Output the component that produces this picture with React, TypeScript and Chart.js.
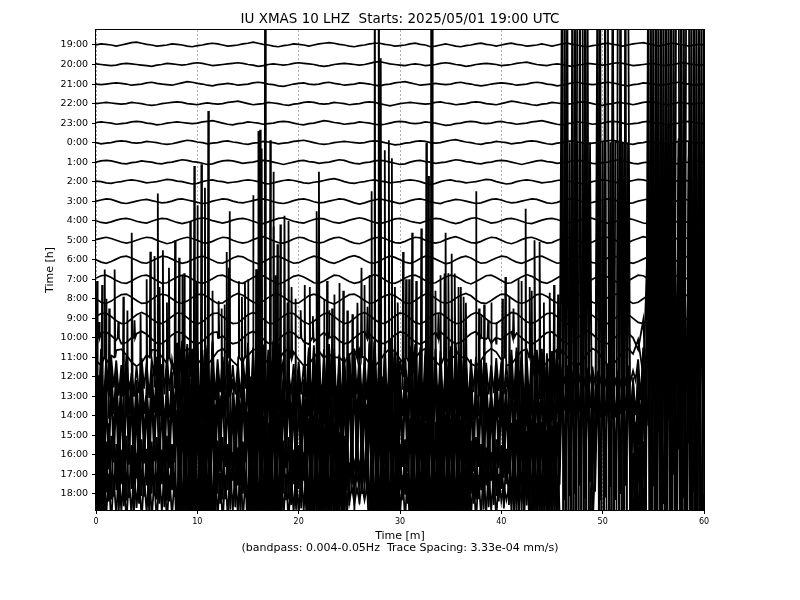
import React, { useEffect, useRef } from 'react';
import { Chart, registerables } from 'chart.js';

Chart.register(...registerables);

// ---------- labels ----------
const hourLabels = ['19:00','20:00','21:00','22:00','23:00','0:00','1:00','2:00','3:00','4:00','5:00','6:00',
  '7:00','8:00','9:00','10:00','11:00','12:00','13:00','14:00','15:00','16:00','17:00','18:00'];
const minuteTicks = [0, 10, 20, 30, 40, 50, 60];
const titleText = 'IU XMAS 10 LHZ  Starts: 2025/05/01 19:00 UTC';
const xLabel = 'Time [m]';
const xSubLabel = '(bandpass: 0.004-0.05Hz  Trace Spacing: 3.33e-04 mm/s)';
const yLabel = 'Time [h]';

// amplitude units: 1e-5 mm/s ; one trace spacing = 3.33e-04 mm/s
const TRACE_SPACING = 33.3;

// ---------- quiet traces, one sample every 0.5 min (0..60) ----------
const t1900 = [0,2,1,0,-2,0,2,4,5,3,
 1,0,-2,-1,0,2,1,0,-2,-3,
 -1,0,2,3,2,0,-2,-1,0,2,
 3,5,3,1,0,-2,-3,-1,0,2,
 1,0,-2,0,2,3,4,3,1,0,
 -2,-3,-1,0,2,3,3,1,0,-2,
 -1,0,2,3,1,0,-3,-2,0,2,
 0,-2,-3,-1,0,2,3,1,0,-2,
 0,2,3,1,0,-2,-1,0,2,0,
 -2,0,2,3,1,0,-2,-3,-1,0,
 2,3,1,0,-2,0,2,3,4,2,
 0,-2,0,2,3,1,0,-2,0,1,0];
const t2000 = [1,0,-1,-2,-1,1,2,1,0,-1,
 -2,-3,-1,0,2,1,0,-1,0,2,
 3,2,0,-2,-1,0,1,2,3,2,
 0,-1,-3,-2,0,1,0,-1,0,2,
 3,2,1,0,-2,-3,-2,0,1,2,
 1,0,-1,0,2,4,5,3,1,0,
 -1,-2,0,1,0,-2,-1,0,2,3,
 2,0,-1,-3,-2,0,1,2,1,0,
 -2,-1,0,2,3,4,2,0,-1,-2,
 0,1,0,-2,-3,-1,0,2,1,0,
 -1,0,2,3,2,0,-2,-1,0,1,
 2,0,-2,-1,0,2,3,1,0,-1,0];
const t2100 = [0,-1,0,1,2,1,0,-2,-1,0,
 2,3,1,0,-1,-2,0,2,4,3,
 1,0,-2,-3,-1,0,1,0,-2,-1,
 0,2,3,2,0,-1,-3,-4,-2,0,
 1,2,0,-1,0,2,3,1,0,-2,
 -1,0,2,1,0,-2,-3,-1,0,2,
 3,4,2,0,-2,-1,0,1,0,-1,
 0,2,3,1,0,-2,-3,-2,0,1,
 2,1,0,-2,-1,0,2,3,2,0,
 -1,-3,-2,0,2,3,1,0,-1,0,
 2,3,2,0,-2,-3,-1,0,2,1,
 0,-2,-1,0,2,3,1,0,-2,-1,0];
const t2200 = [0,1,2,1,0,-1,0,2,1,0,
 -2,-3,-2,0,1,2,3,2,0,-1,
 -2,0,1,0,-1,0,2,3,4,2,
 0,-2,-1,0,2,1,0,-2,-3,-1,
 0,2,3,2,0,-1,0,2,1,0,
 -2,-1,0,2,3,2,0,-2,-4,-2,
 0,1,2,1,0,-1,0,2,3,1,
 0,-2,-1,0,2,3,2,0,-1,-2,
 0,2,4,3,1,0,-2,-3,-1,0,
 2,1,0,-1,0,2,3,2,0,-2,
 -3,-1,0,2,1,0,-2,0,2,3,
 2,0,-1,-2,0,2,1,0,-1,0,1];
const t2300 = [1,2,1,0,-2,-1,0,2,3,2,
 0,-1,-3,-2,0,1,2,1,0,-1,
 0,2,3,4,2,0,-2,-3,-1,0,
 2,1,0,-2,-1,0,2,3,2,0,
 -2,-3,-1,0,2,4,3,1,0,-2,
 -1,0,2,1,0,-2,-3,-2,0,2,
 3,2,0,-1,0,2,1,0,-2,-4,
 -3,-1,0,2,3,2,0,-1,0,2,
 3,1,0,-2,-1,0,2,3,4,2,
 0,-2,-3,-1,0,2,1,0,-2,-1,
 0,2,3,2,0,-2,-1,0,2,3,
 1,0,-2,-3,-1,0,2,3,1,0,-1];
const t0000 = [0,-2,-1,0,2,3,2,0,-1,0,
 2,1,0,-2,-3,-2,0,2,4,3,
 1,0,-2,-1,0,2,3,1,0,-2,
 -3,-1,0,2,1,0,-2,-1,0,2,
 3,4,2,0,-2,-3,-2,0,1,2,
 1,0,-1,0,2,3,2,0,-2,-4,
 -3,-1,0,2,3,2,0,-1,0,2,
 4,5,3,1,0,-2,-3,-1,0,2,
 1,0,-2,-1,0,2,3,2,0,-2,
 -3,-1,0,2,3,1,0,-2,-1,0,
 2,3,4,2,0,-2,-3,-1,0,2,
 1,0,-2,-1,0,2,3,2,0,-1,0];
const t0100 = [0,2,3,2,0,-2,-3,-1,0,2,
 1,0,-2,-3,-1,0,2,4,3,1,
 0,-2,-4,-3,0,2,3,2,0,-2,
 -1,0,2,3,2,0,-2,-4,-2,0,
 2,3,1,0,-2,-1,0,2,4,3,
 0,-2,-3,-1,0,2,3,2,0,-2,
 -4,-3,0,2,3,1,0,-2,-1,0,
 2,4,3,1,0,-2,-3,-1,0,2,
 3,2,0,-2,-4,-2,0,2,3,1,
 0,-2,-1,0,2,3,2,0,-2,-3,
 -1,0,2,4,3,0,-2,-3,-1,0,
 2,3,1,0,-2,-3,-1,0,2,1,0];
const t0200 = [1,0,-2,-3,-1,0,2,3,2,0,
 -2,-1,0,2,4,3,1,0,-2,-4,
 -3,0,2,3,1,0,-2,-1,0,2,
 3,2,0,-2,-4,-2,0,2,3,2,
 0,-2,-3,-1,0,2,4,5,3,0,
 -2,-3,-1,0,2,3,1,0,-2,-1,
 0,2,3,2,0,-3,-5,-3,0,2,
 3,1,0,-2,-1,0,2,4,3,0,
 -2,-4,-3,0,2,3,2,0,-2,-1,
 0,2,3,1,0,-2,-4,-2,0,2,
 3,2,0,-2,-1,0,2,4,3,1,
 0,-2,-3,-1,0,2,3,1,0,-1,0];
const t0300 = [0,2,4,3,0,-3,-4,-2,0,2,
 3,1,-1,-3,-2,0,3,4,2,0,
 -2,-4,-3,0,2,4,3,0,-2,-3,
 -1,1,3,4,2,-1,-3,-4,-2,1,
 3,4,2,-1,-3,-2,0,2,4,3,
 0,-3,-5,-3,0,2,4,2,0,-2,
 -4,-2,1,3,4,2,-1,-3,-4,-1,
 1,3,2,0,-2,-4,-3,0,3,4,
 2,-1,-3,-2,0,2,4,3,0,-3,
 -4,-2,1,3,4,2,-1,-3,-2,0,
 2,4,3,0,-2,-4,-3,0,2,4,
 3,0,-3,-4,-1,1,3,2,0,-2,0];
const t0400 = [0,-3,-4,-2,1,3,4,2,-1,-3,
 -4,-1,2,4,3,0,-3,-5,-3,0,
 3,5,3,0,-2,-4,-2,1,3,4,
 2,-1,-4,-5,-2,1,4,5,2,-1,
 -3,-4,-1,2,4,3,0,-3,-4,-2,
 1,3,5,3,0,-3,-5,-3,0,3,
 4,2,-1,-3,-4,-1,2,4,3,0,
 -3,-5,-3,1,4,5,2,-1,-4,-3,
 0,3,4,2,-1,-4,-5,-2,1,3,
 4,2,-1,-3,-4,-1,2,5,4,1,
 -2,-4,-3,0,3,4,2,-1,-4,-5,
 -2,1,4,3,0,-3,-4,-1,2,3,0];
const t0500 = [1,3,5,3,0,-3,-5,-3,0,3,
 5,4,0,-3,-6,-4,0,3,5,3,
 0,-4,-5,-2,2,5,4,0,-3,-5,
 -3,1,4,6,3,-1,-4,-5,-2,2,
 5,4,0,-3,-5,-3,1,4,5,2,
 -2,-5,-6,-3,1,4,5,3,-1,-4,
 -5,-2,2,5,4,0,-3,-5,-3,1,
 4,6,3,-1,-4,-5,-2,2,5,4,
 0,-4,-6,-3,1,4,5,2,-2,-5,
 -4,0,3,5,3,-1,-4,-6,-3,1,
 4,5,2,-2,-5,-4,0,3,6,4,
 0,-3,-5,-3,1,4,5,2,-2,-4,0];
const t0600 = [0,-4,-6,-3,1,5,6,3,-1,-5,
 -6,-2,2,6,5,1,-3,-6,-4,0,
 4,6,3,-1,-5,-6,-2,3,6,5,
 0,-4,-7,-4,1,5,6,2,-2,-6,
 -5,-1,3,6,4,0,-4,-6,-3,1,
 5,7,4,-1,-5,-6,-2,3,6,4,
 0,-4,-6,-3,2,6,5,1,-3,-7,
 -5,0,4,6,3,-2,-6,-5,-1,3,
 6,5,0,-4,-6,-3,1,5,6,2,
 -2,-6,-5,0,4,7,4,-1,-5,-6,
 -2,3,6,5,0,-4,-6,-3,1,5,
 6,2,-2,-6,-4,0,4,6,3,-1,0];
const t0700 = [2,6,7,3,-2,-6,-7,-3,2,6,
 7,3,-2,-7,-6,-1,4,7,5,0,
 -5,-7,-4,1,6,7,3,-2,-6,-7,
 -2,3,7,6,1,-4,-8,-5,0,5,
 7,4,-1,-6,-7,-3,2,7,6,1,
 -4,-7,-5,0,5,8,5,-1,-6,-7,
 -3,2,6,7,3,-2,-7,-6,-1,4,
 7,5,0,-5,-8,-4,1,6,7,3,
 -2,-7,-6,-1,4,8,5,0,-5,-7,
 -3,2,7,6,1,-4,-7,-5,0,5,
 7,4,-1,-6,-8,-3,2,7,6,1,
 -4,-7,-5,0,5,7,4,-1,-5,-3,0];
const t0800 = [0,-6,-8,-4,2,7,8,3,-3,-8,
 -7,-1,5,8,6,0,-6,-8,-4,2,
 7,8,3,-3,-8,-7,-1,5,9,6,
 0,-6,-8,-4,2,7,8,3,-3,-8,
 -7,-1,5,8,5,-1,-6,-9,-4,2,
 7,8,3,-3,-8,-6,0,5,8,5,
 -1,-7,-8,-3,3,8,7,1,-5,-8,
 -5,1,6,9,5,-2,-7,-8,-3,3,
 8,7,1,-5,-8,-5,1,7,8,4,
 -2,-7,-8,-3,3,8,6,0,-6,-9,
 -4,2,7,8,3,-3,-8,-6,0,6,
 8,5,-1,-7,-8,-3,3,8,6,0,0];
const t0900 = [3,8,9,3,-4,-9,-8,-1,6,10,
 6,-1,-7,-9,-4,3,9,8,1,-6,
 -10,-6,1,8,9,3,-4,-9,-8,-1,
 6,10,6,-1,-8,-9,-3,4,9,8,
 1,-6,-10,-5,2,8,9,3,-4,-9,
 -7,0,7,10,5,-2,-8,-9,-3,4,
 9,7,0,-7,-10,-5,2,8,9,3,
 -4,-9,-8,-1,6,10,6,-1,-8,-9,
 -3,4,10,8,1,-6,-9,-5,2,8,
 9,3,-4,-10,-7,0,7,9,5,-2,
 -8,-9,-3,4,9,7,0,-7,-9,-4,
 3,9,8,1,-6,-9,-5,2,8,6,0];
const t1000 = [2,8,10,4,-4,-10,-8,0,7,11,
 6,-2,-9,-10,-3,5,10,8,0,-7,
 -11,-6,2,9,10,3,-5,-10,-8,0,
 7,11,6,-2,-9,-10,-3,5,10,8,
 0,-7,-11,-6,2,9,10,3,-5,-10,
 -8,0,7,11,6,-2,-9,-10,-3,5,
 10,8,0,-7,-11,-6,2,9,10,3,
 -5,-10,-8,0,7,11,6,-2,-9,-10,
 -3,5,10,8,0,-7,-11,-6,2,9,
 10,3,-5,-10,-8,0,7,11,6,-2,
 -9,-10,-3,5,10,8,0,-20,30,-150,
 180,-160,200,-140,170,-190,150,-180,200,-130,90];
const t1100 = [-5,-14,-10,3,12,14,4,-8,-15,-9,
 4,13,12,1,-10,-15,-6,7,15,10,
 -3,-13,-13,-2,10,15,6,-7,-15,-10,
 3,13,13,1,-11,-15,-5,8,15,9,
 -4,-14,-12,0,11,14,5,-8,-15,-9,
 4,13,12,1,-10,-15,-6,7,15,10,
 -3,-13,-13,-2,10,15,6,-7,-15,-10,
 3,13,13,1,-11,-15,-5,8,15,9,
 -4,-14,-12,0,11,14,5,-8,-15,-9,
 4,13,12,1,-10,-15,-6,7,15,10,
 -3,-13,-13,-2,10,15,6,30,-30,220,
 -220,180,-250,230,-200,260,-240,190,-230,210,-150];

// ---------- noisy traces, one sample every 0.25 min (0..60) ----------
const t1200 = [55,-60,48,-52,30,-25,34,-18,28,-32,20,-30,36,-22,26,-34,18,-28,32,-20,
 24,-36,30,-18,34,-26,22,-30,36,-24,28,-20,58,-50,62,-44,56,-60,48,-55,
 60,-52,46,-58,54,-48,62,-40,30,-26,34,-22,28,-32,20,-30,24,-36,30,-20,
 58,-62,50,-56,64,-48,55,-60,46,-58,62,-50,56,-52,30,-24,34,-28,22,-32,
 26,-30,20,-34,50,-46,54,-40,52,-56,44,-50,56,-42,48,-54,38,-42,34,-40,
 40,-36,44,-30,38,-42,32,-40,60,-55,62,-48,58,-62,50,-56,64,-52,56,-60,
 28,-22,32,-26,52,-48,56,-44,50,-54,46,-52,55,-40,48,-56,44,-50,54,-46,
 52,-48,56,-42,50,-54,46,-52,30,-26,34,-22,28,-32,24,-30,20,-28,32,-24,
 26,-30,22,-28,46,-40,50,-36,44,-48,38,-46,50,-42,46,-38,48,-44,40,-50,
 44,-40,48,-36,12,-8,10,-12,6,-10,14,-6,8,-12,10,-8,12,-10,6,-8,
 10,-12,8,-6,12,-10,8,-12,6,-10,12,-8,10,-6,30,-40,50,-60,300,-280,
 320,-300,280,-340,300,-260,330,-310,290,-320,340,-280,300,-330,310,-290,320,-300,280,-310,
 -200];
const t1300 = [85,-90,72,-80,45,-38,52,-30,42,-50,35,-44,54,-32,40,-52,28,-42,48,-30,
 36,-54,46,-28,52,-40,34,-46,54,-36,42,-30,88,-76,92,-66,84,-90,72,-82,
 90,-78,70,-88,82,-72,94,-60,46,-40,52,-34,42,-48,30,-46,36,-54,46,-30,
 88,-94,76,-84,96,-72,82,-90,70,-88,94,-76,84,-78,46,-36,52,-42,34,-48,
 40,-46,30,-52,76,-70,82,-60,78,-84,66,-76,84,-64,72,-82,58,-64,52,-60,
 60,-54,66,-46,58,-64,48,-60,90,-84,94,-72,88,-94,76,-84,96,-78,84,-90,
 42,-34,48,-40,78,-72,84,-66,76,-82,70,-78,82,-60,72,-84,66,-76,82,-70,
 78,-72,84,-64,76,-82,70,-78,46,-40,52,-34,42,-48,36,-46,30,-42,48,-36,
 40,-46,34,-42,70,-60,76,-54,66,-72,58,-70,76,-64,70,-58,72,-66,60,-76,
 66,-60,72,-54,30,-24,36,-28,22,-34,40,-26,32,-38,28,-20,34,-30,26,-36,
 30,-34,38,-26,32,-36,28,-30,34,-24,36,-30,26,-32,40,-50,60,-70,400,-380,
 420,-400,380,-440,400,-360,430,-410,390,-420,440,-380,400,-430,410,-390,420,-400,380,-410,
 -300];
const t1400 = [112,-120,96,-106,60,-50,70,-40,56,-66,46,-58,72,-42,54,-70,38,-56,64,-40,
 48,-72,62,-38,70,-54,46,-62,72,-48,56,-40,116,-100,122,-88,112,-120,96,-108,
 120,-104,94,-116,108,-96,124,-80,62,-54,70,-46,56,-64,40,-62,48,-72,62,-40,
 116,-124,100,-112,126,-96,108,-120,94,-116,124,-100,112,-104,62,-48,70,-56,46,-64,
 54,-62,40,-70,102,-94,110,-80,104,-112,88,-100,112,-86,96,-110,78,-86,70,-80,
 80,-72,88,-62,78,-86,64,-80,120,-112,126,-96,118,-124,100,-112,128,-104,112,-120,
 56,-46,64,-54,104,-96,112,-88,100,-110,94,-104,110,-80,96,-112,88,-100,110,-94,
 104,-96,112,-86,100,-110,94,-104,62,-54,70,-46,56,-64,48,-62,40,-56,64,-48,
 54,-62,46,-56,94,-80,100,-72,88,-96,78,-94,102,-86,94,-78,96,-88,80,-100,
 88,-80,96,-72,80,-70,86,-76,72,-84,90,-66,78,-88,70,-60,84,-74,66,-86,
 78,-84,88,-66,80,-86,70,-78,84,-64,86,-76,66,-80,90,-100,110,-120,400,-380,
 420,-440,400,-410,450,-420,400,-440,410,-380,440,-410,420,-400,440,-450,410,-420,440,-410,
 -300];
const t1500 = [130,-140,112,-124,70,-58,82,-46,66,-78,54,-68,84,-50,64,-82,44,-66,76,-48,
 56,-84,72,-44,82,-64,54,-72,84,-56,66,-46,136,-116,142,-102,130,-140,112,-126,
 140,-120,110,-136,126,-112,144,-94,72,-62,82,-54,66,-76,48,-72,56,-84,72,-46,
 136,-144,116,-130,146,-112,126,-140,110,-136,144,-116,130,-122,72,-56,82,-66,54,-76,
 62,-72,48,-82,120,-110,128,-94,122,-130,102,-116,130,-100,112,-128,90,-100,82,-94,
 94,-84,102,-72,92,-100,74,-94,140,-130,146,-112,138,-144,116,-130,148,-122,130,-140,
 66,-54,74,-62,120,-112,130,-102,116,-128,110,-120,128,-94,112,-130,102,-116,128,-110,
 120,-112,130,-100,116,-128,110,-120,72,-62,82,-54,66,-76,56,-72,48,-66,76,-56,
 62,-72,54,-66,110,-94,116,-84,102,-112,92,-110,118,-100,110,-90,112,-102,94,-116,
 102,-94,112,-84,100,-110,96,-104,90,-100,112,-86,100,-108,92,-80,106,-96,88,-110,
 100,-106,110,-88,104,-110,92,-100,108,-86,110,-98,90,-104,96,-90,100,-94,480,-500,
 520,-480,500,-520,490,-500,530,-510,490,-520,500,-480,520,-510,500,-490,530,-520,500,-510,
 -400];
const t1600 = [-124,136,-100,116,-64,54,-76,42,-60,72,-50,62,-78,46,-58,76,-40,60,-70,44,
 -52,78,-66,40,-76,58,-50,66,-78,52,-60,42,-126,108,-132,94,-120,130,-104,116,
 -130,112,-102,126,-116,104,-134,86,-66,58,-76,50,-60,70,-44,66,-52,78,-66,42,
 -126,134,-108,120,-136,104,-116,130,-102,126,-134,108,-120,112,-66,52,-76,60,-50,70,
 -58,66,-44,76,-112,102,-118,86,-112,120,-94,108,-120,92,-104,118,-84,94,-76,86,
 -86,78,-94,66,-84,92,-68,86,-130,120,-136,104,-128,134,-108,120,-138,112,-120,130,
 -60,50,-68,58,-112,104,-120,94,-108,118,-102,112,-118,86,-104,120,-94,108,-118,102,
 -112,104,-120,92,-108,118,-102,112,-66,58,-76,50,-60,70,-52,66,-44,60,-70,52,
 -58,66,-50,60,-102,88,-108,78,-96,104,-86,102,-110,94,-102,84,-104,96,-88,108,
 -96,88,-104,80,900,-900,900,-900,-900,900,-900,900,900,-900,900,-900,80,-60,900,-900,
 -900,900,900,-900,900,-900,-900,900,-900,900,900,-120,110,-130,100,-120,130,-110,900,-900,
 900,-900,900,-900,900,-900,900,-900,900,-900,-900,900,-900,900,900,-900,900,-900,900,-900,
 900];
const t1700 = [106,-116,90,-100,56,-46,66,-38,52,-62,42,-54,66,-40,50,-64,36,-50,60,-38,
 44,-66,56,-36,64,-50,42,-56,66,-46,52,-38,110,-94,114,-82,104,-112,90,-100,
 112,-96,88,-108,100,-90,116,-76,58,-50,64,-42,52,-60,38,-56,46,-66,56,-38,
 108,-114,94,-104,118,-90,100,-112,88,-108,116,-94,104,-96,58,-44,64,-52,42,-60,
 50,-58,38,-64,96,-88,102,-76,96,-104,82,-94,104,-80,90,-102,72,-80,66,-76,
 20,-14,18,-12,16,-20,14,-18,112,-104,118,-90,110,-116,94,-104,120,-98,104,-112,
 52,-44,60,-50,96,-90,104,-82,94,-102,88,-98,102,-76,90,-104,82,-94,102,-88,
 96,-90,104,-80,94,-102,88,-96,58,-50,64,-42,52,-60,46,-56,38,-52,60,-46,
 50,-58,44,-52,88,-76,94,-68,84,-90,74,-88,96,-82,88,-72,90,-84,76,-94,
 84,-76,90,-70,-900,900,-900,-900,900,-900,900,900,-900,900,-900,-80,70,-900,-900,900,
 -900,900,-900,-900,900,-900,900,900,-900,900,-900,100,-120,90,-110,100,-100,120,-900,900,
 -900,900,-900,900,-900,900,-900,900,-900,900,900,-900,900,-900,-900,900,-900,900,-900,900,
 -900];
const t1800 = [-80,88,-64,72,-40,34,-48,28,-38,46,-30,40,-50,28,-36,48,-24,38,-44,28,
 -32,50,-42,24,-48,36,-30,42,-50,32,-38,26,-82,70,-86,62,-78,84,-66,74,
 -84,72,-66,80,-76,68,-88,56,-42,36,-48,32,-38,44,-28,42,-34,50,-42,26,
 -80,86,-70,78,-88,66,-76,84,-66,80,-86,70,-78,72,-42,34,-48,38,-32,44,
 -36,42,-28,48,-72,66,-76,56,-72,78,-60,70,-78,60,-66,76,-54,60,-48,56,
 -14,12,-16,10,-12,16,-10,14,-84,78,-88,68,-82,86,-70,78,-90,72,-78,84,
 -38,32,-44,36,-72,66,-78,60,-70,76,-66,72,-76,56,-66,78,-60,70,-76,66,
 -72,66,-78,58,-70,76,-66,72,-42,36,-48,32,-38,44,-34,42,-28,38,-44,34,
 -12,14,-10,12,-16,12,-14,10,-12,16,-10,14,-72,60,-66,54,-68,62,-56,70,
 -62,56,-68,52,600,-600,-600,600,-600,600,600,-600,600,-600,-600,600,-60,50,600,-600,
 600,-600,-600,600,-600,600,600,-600,600,-600,600,-80,70,-90,80,-70,90,-80,600,-600,
 600,-600,600,-600,600,-600,600,-600,600,-600,600,-600,600,-600,600,-600,600,-600,600,-600,
 600];

// ---------- isolated spikes: [minute, amplitude] ----------
const spikes1000 = [[0.3,27],[2.2,27],[3.8,30],[12.1,63],[20.2,47],[21.4,37],[23.0,47],[26.8,53],[33.8,43],[38.0,37],[38.7,30],[39.5,27],[41.2,50]];
const spikes1100 = [[0.86,150],[1.84,150],[5.36,180],[7.2,153],[13.1,153],[14.1,130],[14.7,127],[19.3,120],[22.5,100],[23.5,107],[24.0,127],[25.8,93],[26.2,153],[30.6,133],[34.4,143],[35.4,143],[36.0,120],[36.5,93],[40.4,137],[42.8,120],[45.6,107]];
const spikes1200 = [[3.55,246],[5.8,206],[6.6,216],[7.8,233],[8.2,203],[9.3,266],[12.9,213],[17.5,256],[17.9,226],[18.2,260],[18.6,275],[19.0,266],[30.3,213],[31.2,246],[32.1,253],[34.5,246],[35.1,210],[43.3,233],[43.8,230]];
const spikes1300 = [[6.1,346],[9.7,393],[10.0,326],[10.4,396],[10.75,356],[13.2,316],[15.5,343],[16.35,423],[17.5,383],[21.8,316],[22.0,383],[27.2,350],[28.5,420],[29.2,406],[32.8,376],[37.5,350],[42.4,320],
 [0.6,190],[1.3,150],[2.7,170],[4.4,140],[5.0,200],[7.0,160],[8.7,210],[11.5,180],[12.4,150],[14.4,170],[15.0,200],[18.9,160],[20.6,190],[23.3,150],[24.4,180],[25.3,140],[26.5,190],[29.8,160],[30.9,200],[33.5,180],[34.8,210],[36.3,170],[37.8,150],[39.0,160],[40.8,170],[41.7,200],[43.0,180],[44.2,160],[45.2,190],[45.8,150]];
const spikes1400 = [[11.08,520],[16.0,486],[16.2,488],[17.2,470],[28.1,610],[28.9,470],[32.6,466],
 [0.1,230],[1.0,200],[3.1,180],[6.3,220],[8.5,240],[9.9,230],[12.7,190],[15.8,250],[17.7,240],[19.7,200],[21.1,220],[22.8,230],[24.8,180],[27.0,240],[29.5,220],[31.6,230],[34.0,240],[35.8,220],[38.3,190],[40.1,200],[42.0,230],[44.8,210]];
const spikes1500 = [[16.7,1200],[27.5,1200],[27.9,1200],[33.1,1200],[33.2,1100]];

const traceValues = [t1900,t2000,t2100,t2200,t2300,t0000,t0100,t0200,t0300,t0400,t0500,t0600,
  t0700,t0800,t0900,t1000,t1100,t1200,t1300,t1400,t1500,t1600,t1700,t1800];
const traceSpikes: Record<number, number[][]> = { 15: spikes1000, 16: spikes1100, 17: spikes1200, 18: spikes1300, 19: spikes1400, 20: spikes1500 };

function buildTrace(row: number, values: number[], spikes: number[][]) {
  const n = values.length;
  const pts = values.map((v, i) => ({ x: (i * 60) / (n - 1), y: row - v / TRACE_SPACING }));
  for (const [t, a] of spikes) {
    pts.push({ x: t - 0.06, y: row }, { x: t, y: row - a / TRACE_SPACING }, { x: t + 0.06, y: row });
  }
  pts.sort((p, q) => p.x - q.x);
  return pts;
}

const FONT = '"DejaVu Sans", sans-serif';

const decorPlugin = {
  id: 'decor',
  afterDraw(chart: any) {
    const { ctx, chartArea: a } = chart;
    ctx.save();
    ctx.strokeStyle = '#000';
    ctx.lineWidth = 1;
    ctx.strokeRect(a.left - 0.5, a.top - 0.5, a.right - a.left + 1, a.bottom - a.top + 1);
    ctx.fillStyle = '#000';
    ctx.textAlign = 'center';
    ctx.textBaseline = 'middle';
    ctx.font = `13.5px ${FONT}`;
    ctx.fillText(titleText, (a.left + a.right) / 2, 19.5);
    ctx.font = `11px ${FONT}`;
    ctx.fillText(xLabel, (a.left + a.right) / 2, 536);
    ctx.fillText(xSubLabel, (a.left + a.right) / 2, 548);
    ctx.translate(50, (a.top + a.bottom) / 2);
    ctx.rotate(-Math.PI / 2);
    ctx.fillText(yLabel, 0, 0);
    ctx.restore();
  },
};

export default function App() {
  const ref = useRef<HTMLCanvasElement>(null);
  useEffect(() => {
    if (!ref.current) return;
    const datasets = traceValues.map((vals, row) => ({
      data: buildTrace(row, vals, traceSpikes[row] || []),
      borderColor: '#000',
      borderWidth: row < 15 ? 1.7 : 1.8,
      pointRadius: 0,
      tension: 0,
      fill: false,
      clip: 0,
    }));
    const chart = new Chart(ref.current, {
      type: 'line',
      data: { datasets },
      options: {
        animation: false,
        responsive: false,
        devicePixelRatio: 1,
        events: [],
        layout: { padding: { left: 0, right: 96, top: 30, bottom: 0 } },
        plugins: { legend: { display: false }, tooltip: { enabled: false }, title: { display: false } },
        scales: {
          x: {
            type: 'linear',
            min: 0,
            max: 60,
            afterBuildTicks: (s: any) => { s.ticks = minuteTicks.map((v) => ({ value: v })); },
            afterFit: (s: any) => { s.height = 90; },
            grid: { color: '#b0b0b0', lineWidth: 1, drawTicks: true, tickLength: 4, tickColor: '#000', tickWidth: 1 },
            border: { display: false, dash: [2, 2] },
            ticks: { color: '#000', font: { family: FONT, size: 8 }, padding: 3, maxRotation: 0, autoSkip: false },
          },
          y: {
            type: 'linear',
            reverse: true,
            min: -0.768,
            max: 23.82,
            afterBuildTicks: (s: any) => { s.ticks = hourLabels.map((_, i) => ({ value: i })); },
            afterFit: (s: any) => { s.width = 96; },
            grid: { drawOnChartArea: false, drawTicks: true, tickLength: 4, tickColor: '#000', tickWidth: 1 },
            border: { display: false },
            ticks: {
              color: '#000',
              font: { family: FONT, size: 9.5 },
              padding: 4,
              autoSkip: false,
              callback: (v: any) => hourLabels[Math.round(Number(v))] ?? '',
            },
          },
        },
      },
      plugins: [decorPlugin],
    } as any);
    return () => chart.destroy();
  }, []);
  return (
    <div style={{ position: 'fixed', left: 0, top: 0, width: 800, height: 600, background: '#fff' }}>
      <canvas ref={ref} width={800} height={600} style={{ width: 800, height: 600 }} />
    </div>
  );
}
